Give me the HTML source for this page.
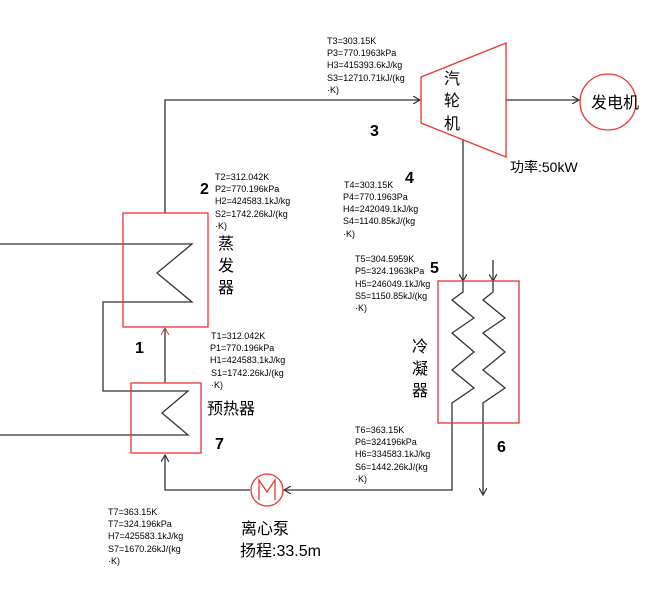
<!DOCTYPE html>
<html><head><meta charset="utf-8"><style>
html,body{margin:0;padding:0;background:#fff}
svg{display:block}
.d{font-family:"Liberation Sans",sans-serif;font-size:9px;fill:#000}
.n{font-family:"Liberation Sans",sans-serif;font-size:16px;font-weight:bold;fill:#000}
.c{font-family:"Liberation Sans","Noto Sans CJK SC",sans-serif;font-size:16px;fill:#000}
</style></head><body>
<svg width="645" height="590" viewBox="0 0 645 590" xmlns="http://www.w3.org/2000/svg">
<defs>
<marker id="a" markerWidth="8" markerHeight="8" refX="7" refY="4" orient="auto" markerUnits="userSpaceOnUse"><path d="M0,0 L7,4 L0,8" fill="none" stroke="#333" stroke-width="1.2"/></marker>
<marker id="r" markerWidth="8" markerHeight="8" refX="7" refY="4" orient="auto" markerUnits="userSpaceOnUse"><path d="M0,0 L7,4 L0,8" fill="none" stroke="#e33" stroke-width="1"/></marker>
</defs>
<g fill="none" stroke="#333" stroke-width="1.3">
<!-- evaporator to turbine -->
<polyline points="165,213 165,100 420,100" marker-end="url(#a)"/>
<!-- preheater to evaporator -->
<line x1="165" y1="383" x2="165" y2="328" marker-end="url(#r)"/>
<!-- evaporator coil -->
<polyline points="0,244 192,244 157,273 192,302 103,302 103,391 188,391 162,413 188,435 0,435"/>
<!-- turbine shaft -->
<line x1="506" y1="100" x2="579" y2="100" marker-end="url(#a)"/>
<!-- turbine outlet to condenser -->
<line x1="463" y1="140" x2="463" y2="281" marker-end="url(#a)"/>
<polyline points="463,281 463,292 452,300 474,318 452,333 474,352 452,370 474,388 452,403 452,490 284,490" marker-end="url(#a)"/>
<!-- cooling water -->
<line x1="493" y1="260" x2="493" y2="281" marker-end="url(#a)"/>
<polyline points="493,281 493,292 483,300 505,318 483,333 505,352 483,370 505,388 483,403 483,495" marker-end="url(#a)"/>
<!-- pump to preheater -->
<polyline points="250,490 165,490 165,455" marker-end="url(#a)"/>
</g>
<g fill="none" stroke="#e33" stroke-width="1.3">
<rect x="123" y="213" width="85" height="114"/>
<rect x="131" y="383" width="70" height="70"/>
<rect x="438" y="281" width="81" height="142"/>
<polygon points="421,77 506,43 506,157 421,123"/>
<circle cx="608" cy="102" r="28"/>
<circle cx="267" cy="490" r="16"/>
<polyline points="259,500 259,480 267,492 275,480 275,500"/>
</g>
<text class="c" x="591" y="108">发电机</text>
<text class="c" x="444" y="84">汽</text>
<text class="c" x="444" y="106">轮</text>
<text class="c" x="444" y="129">机</text>
<text class="c" x="218" y="249">蒸</text>
<text class="c" x="218" y="271">发</text>
<text class="c" x="218" y="293">器</text>
<text class="c" x="412" y="352">冷</text>
<text class="c" x="412" y="374">凝</text>
<text class="c" x="412" y="396">器</text>
<text class="c" x="207" y="414">预热器</text>
<text class="c" x="510" y="172" style="font-size:14px">功率:50kW</text>
<text class="c" x="241" y="534">离心泵</text>
<text class="c" x="240" y="556">扬程:33.5m</text>
<text class="n" x="135" y="353">1</text>
<text class="n" x="200" y="194">2</text>
<text class="n" x="370" y="136">3</text>
<text class="n" x="405" y="183">4</text>
<text class="n" x="430" y="273">5</text>
<text class="n" x="497" y="452">6</text>
<text class="n" x="215" y="449">7</text>
<g class="d">
<text x="327" y="44">T3=303.15K</text><text x="327" y="56">P3=770.1963kPa</text><text x="327" y="68">H3=415393.6kJ/kg</text><text x="327" y="81">S3=12710.71kJ/(kg</text><text x="327" y="93">·K)</text>
<text x="215" y="180">T2=312.042K</text><text x="215" y="192">P2=770.196kPa</text><text x="215" y="204">H2=424583.1kJ/kg</text><text x="215" y="217">S2=1742.26kJ/(kg</text><text x="215" y="229">·K)</text>
<text x="211" y="339">T1=312.042K</text><text x="210" y="351">P1=770.196kPa</text><text x="210" y="363">H1=424583.1kJ/kg</text><text x="211" y="376">S1=1742.26kJ/(kg</text><text x="211" y="388">·K)</text>
<text x="344" y="188">T4=303.15K</text><text x="343" y="200">P4=770.1963Pa</text><text x="343" y="212">H4=242049.1kJ/kg</text><text x="343" y="224">S4=1140.85kJ/(kg</text><text x="343" y="237">·K)</text>
<text x="355" y="262">T5=304.5959K</text><text x="355" y="274">P5=324.1963kPa</text><text x="355" y="287">H5=246049.1kJ/kg</text><text x="355" y="299">S5=1150.85kJ/(kg</text><text x="355" y="311">·K)</text>
<text x="355" y="433">T6=363.15K</text><text x="355" y="445">P6=324196kPa</text><text x="355" y="457">H6=334583.1kJ/kg</text><text x="355" y="470">S6=1442.26kJ/(kg</text><text x="355" y="482">·K)</text>
<text x="108" y="515">T7=363.15K</text><text x="108" y="527">T7=324.196kPa</text><text x="108" y="539">H7=425583.1kJ/kg</text><text x="108" y="552">S7=1670.26kJ/(kg</text><text x="108" y="564">·K)</text>
</g>
</svg>
</body></html>
